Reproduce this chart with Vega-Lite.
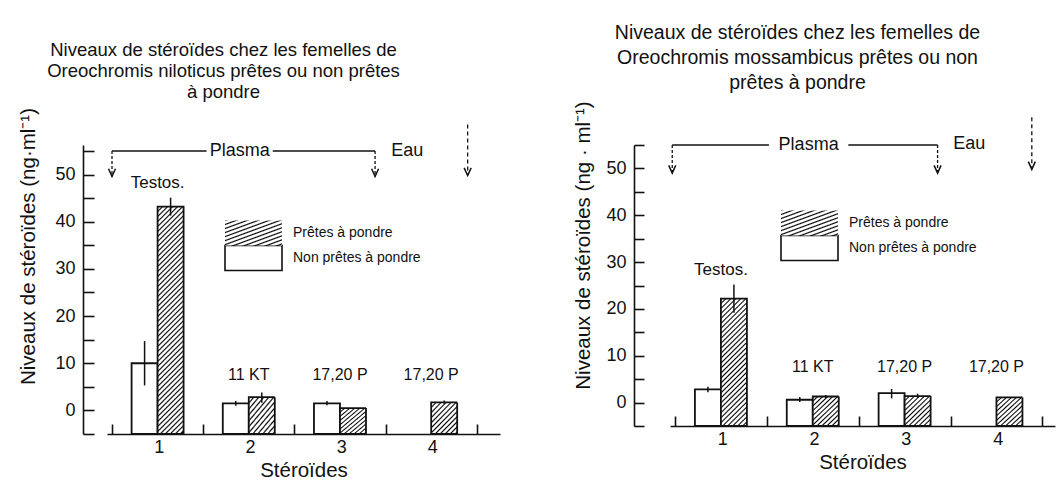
{
"$schema": "https://vega.github.io/schema/vega-lite/v6.json",
"background": "white",
"padding": {"left": 18, "top": 22, "right": 5, "bottom": 5},
"spacing": 49,
"datasets": {"bars": [
{"p":"L","g":1,"s":"Non prêtes à pondre","st":"Testos.","v":10,"lo":5.3,"hi":14.7},
{"p":"L","g":1,"s":"Prêtes à pondre","st":"Testos.","v":43.2,"lo":41.3,"hi":45.1},
{"p":"L","g":2,"s":"Non prêtes à pondre","st":"11 KT","v":1.5,"lo":1.0,"hi":2.0},
{"p":"L","g":2,"s":"Prêtes à pondre","st":"11 KT","v":2.8,"lo":1.6,"hi":3.8},
{"p":"L","g":3,"s":"Non prêtes à pondre","st":"17,20 P","v":1.5,"lo":1.1,"hi":2.0},
{"p":"L","g":3,"s":"Prêtes à pondre","st":"17,20 P","v":0.5,"lo":null,"hi":null},
{"p":"L","g":4,"s":"Prêtes à pondre","st":"17,20 P","v":1.7,"lo":1.4,"hi":2.1},
{"p":"R","g":1,"s":"Non prêtes à pondre","st":"Testos.","v":2.8,"lo":2.2,"hi":3.4},
{"p":"R","g":1,"s":"Prêtes à pondre","st":"Testos.","v":22.2,"lo":19.2,"hi":25.2},
{"p":"R","g":2,"s":"Non prêtes à pondre","st":"11 KT","v":0.6,"lo":0.1,"hi":1.2},
{"p":"R","g":2,"s":"Prêtes à pondre","st":"11 KT","v":1.3,"lo":1.0,"hi":1.6},
{"p":"R","g":3,"s":"Non prêtes à pondre","st":"17,20 P","v":2.0,"lo":0.9,"hi":2.9},
{"p":"R","g":3,"s":"Prêtes à pondre","st":"17,20 P","v":1.4,"lo":1.0,"hi":1.9},
{"p":"R","g":4,"s":"Prêtes à pondre","st":"17,20 P","v":1.1,"lo":null,"hi":null}
]},
"resolve": {"scale": {"strokeDash": "independent", "fill": "independent"}, "legend": {"strokeDash": "independent", "fill": "independent"}},
"hconcat": [
{
"width": 393, "height": 289,
"title": {"text": ["Niveaux de stéroïdes chez les femelles de", "Oreochromis niloticus prêtes ou non prêtes", "à pondre"], "anchor": "middle", "frame": "group", "dx": -80, "offset": 5.5, "lineHeight": 21, "fontSize": 18.5},
"data": {"name": "bars"},
"layer": [
{"transform": [{"filter": "datum.p == 'L' && datum.s == 'Non prêtes à pondre'"}],
 "mark": {"type": "bar", "width": 26, "xOffset": -13, "stroke": "#111", "strokeWidth": 1.8},
 "encoding": {
  "x": {"field": "g", "type": "quantitative", "scale": {"domain": [0.5, 4.7], "nice": false, "zero": false},
        "axis": {"title": "Stéroïdes", "values": [0.5,1.5,2.5,3.5,4.5], "tickCount": 30, "labelExpr": "datum.value > 4 ? '' : format(datum.value + 0.5, 'd')", "labelOffset": 46.8, "tickSize": -10, "labelPadding": 14, "labelFlush": false, "labelOverlap": false, "titlePadding": 4}},
  "y": {"field": "v", "type": "quantitative", "scale": {"domain": [-5, 56.27], "nice": false, "zero": false},
        "axis": {"title": "Niveaux de stéroïdes (ng·ml⁻¹)", "values": [-5,0,5,10,15,20,25,30,35,40,45,50,55], "tickCount": 30, "labelExpr": "datum.value >= 0 && datum.value <= 50 && datum.value % 10 == 0 ? datum.label : ''", "labelOverlap": false, "tickSize": -11, "labelPadding": 19, "offset": 24, "titleY": 101, "titlePadding": 16}},
  "y2": {"datum": -5},
  "fill": {"field": "s", "type": "nominal", "scale": {"domain": ["Non prêtes à pondre"], "range": ["#fff"]},
           "legend": {"orient": "none", "legendX": 133, "legendY": 99.5, "title": null, "symbolType": "M-2.28,-1H2.28V1H-2.28Z", "symbolSize": 625, "symbolStrokeColor": "#111", "symbolStrokeWidth": 1.6, "labelFontSize": 14, "labelOffset": 26, "padding": 0}}
 }},
{"transform": [{"filter": "datum.p == 'L' && datum.s == 'Prêtes à pondre' && datum.g == 1"}],
 "mark": {"type": "bar", "width": 26, "xOffset": 13, "stroke": "#111", "strokeWidth": 1.8, "fill": {"gradient":"linear","x1":0,"y1":0,"x2":0.1241,"y2":1.0852,"stops":[
{"offset":0,"color":"#000"},{"offset":0.006,"color":"#fff"},{"offset":0.014,"color":"#fff"},
{"offset":0.02,"color":"#000"},{"offset":0.026,"color":"#fff"},{"offset":0.034,"color":"#fff"},
{"offset":0.04,"color":"#000"},{"offset":0.046,"color":"#fff"},{"offset":0.054,"color":"#fff"},
{"offset":0.06,"color":"#000"},{"offset":0.066,"color":"#fff"},{"offset":0.074,"color":"#fff"},
{"offset":0.08,"color":"#000"},{"offset":0.086,"color":"#fff"},{"offset":0.094,"color":"#fff"},
{"offset":0.1,"color":"#000"},{"offset":0.106,"color":"#fff"},{"offset":0.114,"color":"#fff"},
{"offset":0.12,"color":"#000"},{"offset":0.126,"color":"#fff"},{"offset":0.134,"color":"#fff"},
{"offset":0.14,"color":"#000"},{"offset":0.146,"color":"#fff"},{"offset":0.154,"color":"#fff"},
{"offset":0.16,"color":"#000"},{"offset":0.166,"color":"#fff"},{"offset":0.174,"color":"#fff"},
{"offset":0.18,"color":"#000"},{"offset":0.186,"color":"#fff"},{"offset":0.194,"color":"#fff"},
{"offset":0.2,"color":"#000"},{"offset":0.206,"color":"#fff"},{"offset":0.214,"color":"#fff"},
{"offset":0.22,"color":"#000"},{"offset":0.226,"color":"#fff"},{"offset":0.234,"color":"#fff"},
{"offset":0.24,"color":"#000"},{"offset":0.246,"color":"#fff"},{"offset":0.254,"color":"#fff"},
{"offset":0.26,"color":"#000"},{"offset":0.266,"color":"#fff"},{"offset":0.274,"color":"#fff"},
{"offset":0.28,"color":"#000"},{"offset":0.286,"color":"#fff"},{"offset":0.294,"color":"#fff"},
{"offset":0.3,"color":"#000"},{"offset":0.306,"color":"#fff"},{"offset":0.314,"color":"#fff"},
{"offset":0.32,"color":"#000"},{"offset":0.326,"color":"#fff"},{"offset":0.334,"color":"#fff"},
{"offset":0.34,"color":"#000"},{"offset":0.346,"color":"#fff"},{"offset":0.354,"color":"#fff"},
{"offset":0.36,"color":"#000"},{"offset":0.366,"color":"#fff"},{"offset":0.374,"color":"#fff"},
{"offset":0.38,"color":"#000"},{"offset":0.386,"color":"#fff"},{"offset":0.394,"color":"#fff"},
{"offset":0.4,"color":"#000"},{"offset":0.406,"color":"#fff"},{"offset":0.414,"color":"#fff"},
{"offset":0.42,"color":"#000"},{"offset":0.426,"color":"#fff"},{"offset":0.434,"color":"#fff"},
{"offset":0.44,"color":"#000"},{"offset":0.446,"color":"#fff"},{"offset":0.454,"color":"#fff"},
{"offset":0.46,"color":"#000"},{"offset":0.466,"color":"#fff"},{"offset":0.474,"color":"#fff"},
{"offset":0.48,"color":"#000"},{"offset":0.486,"color":"#fff"},{"offset":0.494,"color":"#fff"},
{"offset":0.5,"color":"#000"},{"offset":0.506,"color":"#fff"},{"offset":0.514,"color":"#fff"},
{"offset":0.52,"color":"#000"},{"offset":0.526,"color":"#fff"},{"offset":0.534,"color":"#fff"},
{"offset":0.54,"color":"#000"},{"offset":0.546,"color":"#fff"},{"offset":0.554,"color":"#fff"},
{"offset":0.56,"color":"#000"},{"offset":0.566,"color":"#fff"},{"offset":0.574,"color":"#fff"},
{"offset":0.58,"color":"#000"},{"offset":0.586,"color":"#fff"},{"offset":0.594,"color":"#fff"},
{"offset":0.6,"color":"#000"},{"offset":0.606,"color":"#fff"},{"offset":0.614,"color":"#fff"},
{"offset":0.62,"color":"#000"},{"offset":0.626,"color":"#fff"},{"offset":0.634,"color":"#fff"},
{"offset":0.64,"color":"#000"},{"offset":0.646,"color":"#fff"},{"offset":0.654,"color":"#fff"},
{"offset":0.66,"color":"#000"},{"offset":0.666,"color":"#fff"},{"offset":0.674,"color":"#fff"},
{"offset":0.68,"color":"#000"},{"offset":0.686,"color":"#fff"},{"offset":0.694,"color":"#fff"},
{"offset":0.7,"color":"#000"},{"offset":0.706,"color":"#fff"},{"offset":0.714,"color":"#fff"},
{"offset":0.72,"color":"#000"},{"offset":0.726,"color":"#fff"},{"offset":0.734,"color":"#fff"},
{"offset":0.74,"color":"#000"},{"offset":0.746,"color":"#fff"},{"offset":0.754,"color":"#fff"},
{"offset":0.76,"color":"#000"},{"offset":0.766,"color":"#fff"},{"offset":0.774,"color":"#fff"},
{"offset":0.78,"color":"#000"},{"offset":0.786,"color":"#fff"},{"offset":0.794,"color":"#fff"},
{"offset":0.8,"color":"#000"},{"offset":0.806,"color":"#fff"},{"offset":0.814,"color":"#fff"},
{"offset":0.82,"color":"#000"},{"offset":0.826,"color":"#fff"},{"offset":0.834,"color":"#fff"},
{"offset":0.84,"color":"#000"},{"offset":0.846,"color":"#fff"},{"offset":0.854,"color":"#fff"},
{"offset":0.86,"color":"#000"},{"offset":0.866,"color":"#fff"},{"offset":0.874,"color":"#fff"},
{"offset":0.88,"color":"#000"},{"offset":0.886,"color":"#fff"},{"offset":0.894,"color":"#fff"},
{"offset":0.9,"color":"#000"},{"offset":0.906,"color":"#fff"},{"offset":0.914,"color":"#fff"},
{"offset":0.92,"color":"#000"},{"offset":0.926,"color":"#fff"},{"offset":0.934,"color":"#fff"},
{"offset":0.94,"color":"#000"},{"offset":0.946,"color":"#fff"},{"offset":0.954,"color":"#fff"},
{"offset":0.96,"color":"#000"},{"offset":0.966,"color":"#fff"},{"offset":0.974,"color":"#fff"},
{"offset":0.98,"color":"#000"},{"offset":0.986,"color":"#fff"},{"offset":0.994,"color":"#fff"},
{"offset":1,"color":"#000"}]}},
 "encoding": {"x": {"field": "g", "type": "quantitative"}, "y": {"field": "v", "type": "quantitative"}, "y2": {"datum": -5}}},
{"transform": [{"filter": "datum.p == 'L' && datum.s == 'Prêtes à pondre' && datum.g > 1"}],
 "mark": {"type": "bar", "width": 26, "xOffset": 13, "stroke": "#111", "strokeWidth": 1.8, "fill": {"gradient":"linear","x1":0,"y1":0,"x2":3.97,"y2":4.73,"stops":[
{"offset":0,"color":"#000"},{"offset":0.006,"color":"#fff"},{"offset":0.014,"color":"#fff"},
{"offset":0.02,"color":"#000"},{"offset":0.026,"color":"#fff"},{"offset":0.034,"color":"#fff"},
{"offset":0.04,"color":"#000"},{"offset":0.046,"color":"#fff"},{"offset":0.054,"color":"#fff"},
{"offset":0.06,"color":"#000"},{"offset":0.066,"color":"#fff"},{"offset":0.074,"color":"#fff"},
{"offset":0.08,"color":"#000"},{"offset":0.086,"color":"#fff"},{"offset":0.094,"color":"#fff"},
{"offset":0.1,"color":"#000"},{"offset":0.106,"color":"#fff"},{"offset":0.114,"color":"#fff"},
{"offset":0.12,"color":"#000"},{"offset":0.126,"color":"#fff"},{"offset":0.134,"color":"#fff"},
{"offset":0.14,"color":"#000"},{"offset":0.146,"color":"#fff"},{"offset":0.154,"color":"#fff"},
{"offset":0.16,"color":"#000"},{"offset":0.166,"color":"#fff"},{"offset":0.174,"color":"#fff"},
{"offset":0.18,"color":"#000"},{"offset":0.186,"color":"#fff"},{"offset":0.194,"color":"#fff"},
{"offset":0.2,"color":"#000"},{"offset":0.206,"color":"#fff"},{"offset":0.214,"color":"#fff"},
{"offset":0.22,"color":"#000"},{"offset":0.226,"color":"#fff"},{"offset":0.234,"color":"#fff"},
{"offset":0.24,"color":"#000"},{"offset":0.246,"color":"#fff"},{"offset":0.254,"color":"#fff"}]}},
 "encoding": {"x": {"field": "g", "type": "quantitative"}, "y": {"field": "v", "type": "quantitative"}, "y2": {"datum": -5},
  "strokeDash": {"field": "s", "type": "nominal", "scale": {"domain": ["Prêtes à pondre"], "range": [[1, 0]]},
           "legend": {"orient": "none", "legendX": 133, "legendY": 74.5, "title": null, "symbolType": "M-2.28,-1H2.28V1H-2.28Z", "symbolSize": 625, "symbolStrokeColor": "#111", "symbolStrokeWidth": 1.6, "labelFontSize": 14, "labelOffset": 26, "padding": 0,
             "encode": {"symbols": {"stroke": {"value": "#111"}, "strokeWidth": {"value": 1.6}}}}}}},
{"transform": [{"filter": "datum.p == 'L' && datum.s == 'Non prêtes à pondre' && isValid(datum.lo)"}],
 "mark": {"type": "rule", "xOffset": -13, "stroke": "#111", "strokeWidth": 1.5},
 "encoding": {"x": {"field": "g", "type": "quantitative"}, "y": {"field": "lo", "type": "quantitative"}, "y2": {"field": "hi"}}},
{"transform": [{"filter": "datum.p == 'L' && datum.s == 'Prêtes à pondre' && isValid(datum.lo)"}],
 "mark": {"type": "rule", "xOffset": 13, "stroke": "#111", "strokeWidth": 1.5},
 "encoding": {"x": {"field": "g", "type": "quantitative"}, "y": {"field": "lo", "type": "quantitative"}, "y2": {"field": "hi"}}},
{"transform": [{"filter": "datum.p == 'L' && datum.s == 'Prêtes à pondre' && datum.g == 1"}],
 "mark": {"type": "text", "baseline": "bottom", "dy": -6, "fontSize": 17},
 "encoding": {"x": {"field": "g", "type": "quantitative"}, "y": {"field": "hi", "type": "quantitative"}, "text": {"field": "st"}}},
{"transform": [{"filter": "datum.p == 'L' && datum.s == 'Prêtes à pondre' && datum.g > 1"}],
 "mark": {"type": "text", "baseline": "middle", "fontSize": 16},
 "encoding": {"x": {"field": "g", "type": "quantitative"}, "y": {"datum": 7.6}, "text": {"field": "st"}}},
{"data": {"values": [{}]}, "mark": {"type": "rule", "stroke": "#111", "strokeWidth": 1.5},
 "encoding": {"x": {"datum": 0.5}, "x2": {"datum": 1.537}, "y": {"datum": 55}}},
{"data": {"values": [{}]}, "mark": {"type": "rule", "stroke": "#111", "strokeWidth": 1.5},
 "encoding": {"x": {"datum": 2.263}, "x2": {"datum": 3.385}, "y": {"datum": 55}}},
{"data": {"values": [{}]}, "mark": {"type": "text", "text": "Plasma", "fontSize": 18, "baseline": "middle"},
 "encoding": {"x": {"datum": 1.9}, "y": {"datum": 55}}},
{"data": {"values": [{}]}, "mark": {"type": "text", "text": "Eau", "fontSize": 18, "baseline": "middle"},
 "encoding": {"x": {"datum": 3.738}, "y": {"datum": 55.1}}},
{"data": {"values": [{}]}, "mark": {"type": "rule", "stroke": "#111", "strokeWidth": 1.3, "strokeDash": [3, 2]},
 "encoding": {"x": {"datum": 0.5}, "y": {"datum": 55}, "y2": {"datum": 49.6}}},
{"data": {"values": [{}]}, "mark": {"type": "rule", "stroke": "#111", "strokeWidth": 1.3, "strokeDash": [3, 2]},
 "encoding": {"x": {"datum": 3.385}, "y": {"datum": 55}, "y2": {"datum": 49.6}}},
{"data": {"values": [{}]}, "mark": {"type": "rule", "stroke": "#111", "strokeWidth": 1.3, "strokeDash": [4, 3]},
 "encoding": {"x": {"datum": 4.4}, "y": {"datum": 60.6}, "y2": {"datum": 49.8}}},
{"data": {"values": [{}]}, "mark": {"type": "point", "shape": "M-1,-2.2L0,0L1,-2.2", "size": 49, "filled": false, "stroke": "#111", "strokeWidth": 1.5, "opacity": 1},
 "encoding": {"x": {"datum": 0.5}, "y": {"datum": 49.6}}},
{"data": {"values": [{}]}, "mark": {"type": "point", "shape": "M-1,-2.2L0,0L1,-2.2", "size": 49, "filled": false, "stroke": "#111", "strokeWidth": 1.5, "opacity": 1},
 "encoding": {"x": {"datum": 3.385}, "y": {"datum": 49.6}}},
{"data": {"values": [{}]}, "mark": {"type": "point", "shape": "M-1,-2.2L0,0L1,-2.2", "size": 49, "filled": false, "stroke": "#111", "strokeWidth": 1.5, "opacity": 1},
 "encoding": {"x": {"datum": 4.4}, "y": {"datum": 49.8}}}
]
},
{
"width": 385, "height": 281,
"title": {"text": ["Niveaux de stéroïdes chez les femelles de", "Oreochromis mossambicus prêtes ou non", "prêtes à pondre"], "anchor": "middle", "frame": "group", "dx": -65, "offset": 7.5, "lineHeight": 25, "fontSize": 19.5},
"data": {"name": "bars"},
"layer": [
{"transform": [{"filter": "datum.p == 'R' && datum.s == 'Non prêtes à pondre'"}],
 "mark": {"type": "bar", "width": 26, "xOffset": -13, "stroke": "#111", "strokeWidth": 1.8},
 "encoding": {
  "x": {"field": "g", "type": "quantitative", "scale": {"domain": [0.5, 4.583], "nice": false, "zero": false},
        "axis": {"title": "Stéroïdes", "values": [0.5,1.5,2.5,3.5,4.5], "tickCount": 30, "labelExpr": "datum.value > 4 ? '' : format(datum.value + 0.5, 'd')", "labelOffset": 47.15, "tickSize": -10, "labelPadding": 14, "labelFlush": false, "labelOverlap": false, "titlePadding": 4}},
  "y": {"field": "v", "type": "quantitative", "scale": {"domain": [-5, 55], "nice": false, "zero": false},
        "axis": {"title": "Niveaux de stéroïdes (ng · ml⁻¹)", "values": [-5,0,5,10,15,20,25,30,35,40,45,50,55], "tickCount": 30, "labelExpr": "datum.value >= 0 && datum.value <= 50 && datum.value % 10 == 0 ? datum.label : ''", "labelOverlap": false, "tickSize": -10, "labelPadding": 18, "offset": 36, "titleY": 100, "titlePadding": 12}},
  "y2": {"datum": -5},
  "fill": {"field": "s", "type": "nominal", "scale": {"domain": ["Non prêtes à pondre"], "range": ["#fff"]},
           "legend": {"orient": "none", "legendX": 126, "legendY": 89.5, "title": null, "symbolType": "M-2.28,-1H2.28V1H-2.28Z", "symbolSize": 625, "symbolStrokeColor": "#111", "symbolStrokeWidth": 1.6, "labelFontSize": 14, "labelOffset": 26, "padding": 0}}
 }},
{"transform": [{"filter": "datum.p == 'R' && datum.s == 'Prêtes à pondre' && datum.g == 1"}],
 "mark": {"type": "bar", "width": 26, "xOffset": 13, "stroke": "#111", "strokeWidth": 1.8, "fill": {"gradient":"linear","x1":0,"y1":0,"x2":0.3793,"y2":1.8717,"stops":[
{"offset":0,"color":"#000"},{"offset":0.006,"color":"#fff"},{"offset":0.014,"color":"#fff"},
{"offset":0.02,"color":"#000"},{"offset":0.026,"color":"#fff"},{"offset":0.034,"color":"#fff"},
{"offset":0.04,"color":"#000"},{"offset":0.046,"color":"#fff"},{"offset":0.054,"color":"#fff"},
{"offset":0.06,"color":"#000"},{"offset":0.066,"color":"#fff"},{"offset":0.074,"color":"#fff"},
{"offset":0.08,"color":"#000"},{"offset":0.086,"color":"#fff"},{"offset":0.094,"color":"#fff"},
{"offset":0.1,"color":"#000"},{"offset":0.106,"color":"#fff"},{"offset":0.114,"color":"#fff"},
{"offset":0.12,"color":"#000"},{"offset":0.126,"color":"#fff"},{"offset":0.134,"color":"#fff"},
{"offset":0.14,"color":"#000"},{"offset":0.146,"color":"#fff"},{"offset":0.154,"color":"#fff"},
{"offset":0.16,"color":"#000"},{"offset":0.166,"color":"#fff"},{"offset":0.174,"color":"#fff"},
{"offset":0.18,"color":"#000"},{"offset":0.186,"color":"#fff"},{"offset":0.194,"color":"#fff"},
{"offset":0.2,"color":"#000"},{"offset":0.206,"color":"#fff"},{"offset":0.214,"color":"#fff"},
{"offset":0.22,"color":"#000"},{"offset":0.226,"color":"#fff"},{"offset":0.234,"color":"#fff"},
{"offset":0.24,"color":"#000"},{"offset":0.246,"color":"#fff"},{"offset":0.254,"color":"#fff"},
{"offset":0.26,"color":"#000"},{"offset":0.266,"color":"#fff"},{"offset":0.274,"color":"#fff"},
{"offset":0.28,"color":"#000"},{"offset":0.286,"color":"#fff"},{"offset":0.294,"color":"#fff"},
{"offset":0.3,"color":"#000"},{"offset":0.306,"color":"#fff"},{"offset":0.314,"color":"#fff"},
{"offset":0.32,"color":"#000"},{"offset":0.326,"color":"#fff"},{"offset":0.334,"color":"#fff"},
{"offset":0.34,"color":"#000"},{"offset":0.346,"color":"#fff"},{"offset":0.354,"color":"#fff"},
{"offset":0.36,"color":"#000"},{"offset":0.366,"color":"#fff"},{"offset":0.374,"color":"#fff"},
{"offset":0.38,"color":"#000"},{"offset":0.386,"color":"#fff"},{"offset":0.394,"color":"#fff"},
{"offset":0.4,"color":"#000"},{"offset":0.406,"color":"#fff"},{"offset":0.414,"color":"#fff"},
{"offset":0.42,"color":"#000"},{"offset":0.426,"color":"#fff"},{"offset":0.434,"color":"#fff"},
{"offset":0.44,"color":"#000"},{"offset":0.446,"color":"#fff"},{"offset":0.454,"color":"#fff"},
{"offset":0.46,"color":"#000"},{"offset":0.466,"color":"#fff"},{"offset":0.474,"color":"#fff"},
{"offset":0.48,"color":"#000"},{"offset":0.486,"color":"#fff"},{"offset":0.494,"color":"#fff"},
{"offset":0.5,"color":"#000"},{"offset":0.506,"color":"#fff"},{"offset":0.514,"color":"#fff"},
{"offset":0.52,"color":"#000"},{"offset":0.526,"color":"#fff"},{"offset":0.534,"color":"#fff"},
{"offset":0.54,"color":"#000"},{"offset":0.546,"color":"#fff"},{"offset":0.554,"color":"#fff"},
{"offset":0.56,"color":"#000"},{"offset":0.566,"color":"#fff"},{"offset":0.574,"color":"#fff"},
{"offset":0.58,"color":"#000"},{"offset":0.586,"color":"#fff"},{"offset":0.594,"color":"#fff"},
{"offset":0.6,"color":"#000"},{"offset":0.606,"color":"#fff"},{"offset":0.614,"color":"#fff"},
{"offset":0.62,"color":"#000"},{"offset":0.626,"color":"#fff"},{"offset":0.634,"color":"#fff"}]}},
 "encoding": {"x": {"field": "g", "type": "quantitative"}, "y": {"field": "v", "type": "quantitative"}, "y2": {"datum": -5}}},
{"transform": [{"filter": "datum.p == 'R' && datum.s == 'Prêtes à pondre' && datum.g > 1"}],
 "mark": {"type": "bar", "width": 26, "xOffset": 13, "stroke": "#111", "strokeWidth": 1.8, "fill": {"gradient":"linear","x1":0,"y1":0,"x2":3.97,"y2":4.73,"stops":[
{"offset":0,"color":"#000"},{"offset":0.006,"color":"#fff"},{"offset":0.014,"color":"#fff"},
{"offset":0.02,"color":"#000"},{"offset":0.026,"color":"#fff"},{"offset":0.034,"color":"#fff"},
{"offset":0.04,"color":"#000"},{"offset":0.046,"color":"#fff"},{"offset":0.054,"color":"#fff"},
{"offset":0.06,"color":"#000"},{"offset":0.066,"color":"#fff"},{"offset":0.074,"color":"#fff"},
{"offset":0.08,"color":"#000"},{"offset":0.086,"color":"#fff"},{"offset":0.094,"color":"#fff"},
{"offset":0.1,"color":"#000"},{"offset":0.106,"color":"#fff"},{"offset":0.114,"color":"#fff"},
{"offset":0.12,"color":"#000"},{"offset":0.126,"color":"#fff"},{"offset":0.134,"color":"#fff"},
{"offset":0.14,"color":"#000"},{"offset":0.146,"color":"#fff"},{"offset":0.154,"color":"#fff"},
{"offset":0.16,"color":"#000"},{"offset":0.166,"color":"#fff"},{"offset":0.174,"color":"#fff"},
{"offset":0.18,"color":"#000"},{"offset":0.186,"color":"#fff"},{"offset":0.194,"color":"#fff"},
{"offset":0.2,"color":"#000"},{"offset":0.206,"color":"#fff"},{"offset":0.214,"color":"#fff"},
{"offset":0.22,"color":"#000"},{"offset":0.226,"color":"#fff"},{"offset":0.234,"color":"#fff"},
{"offset":0.24,"color":"#000"},{"offset":0.246,"color":"#fff"},{"offset":0.254,"color":"#fff"}]}},
 "encoding": {"x": {"field": "g", "type": "quantitative"}, "y": {"field": "v", "type": "quantitative"}, "y2": {"datum": -5},
  "strokeDash": {"field": "s", "type": "nominal", "scale": {"domain": ["Prêtes à pondre"], "range": [[1, 0]]},
           "legend": {"orient": "none", "legendX": 126, "legendY": 64.5, "title": null, "symbolType": "M-2.28,-1H2.28V1H-2.28Z", "symbolSize": 625, "symbolStrokeColor": "#111", "symbolStrokeWidth": 1.6, "labelFontSize": 14, "labelOffset": 26, "padding": 0,
             "encode": {"symbols": {"stroke": {"value": "#111"}, "strokeWidth": {"value": 1.6}}}}}}},
{"transform": [{"filter": "datum.p == 'R' && datum.s == 'Non prêtes à pondre' && isValid(datum.lo)"}],
 "mark": {"type": "rule", "xOffset": -13, "stroke": "#111", "strokeWidth": 1.5},
 "encoding": {"x": {"field": "g", "type": "quantitative"}, "y": {"field": "lo", "type": "quantitative"}, "y2": {"field": "hi"}}},
{"transform": [{"filter": "datum.p == 'R' && datum.s == 'Prêtes à pondre' && isValid(datum.lo)"}],
 "mark": {"type": "rule", "xOffset": 13, "stroke": "#111", "strokeWidth": 1.5},
 "encoding": {"x": {"field": "g", "type": "quantitative"}, "y": {"field": "lo", "type": "quantitative"}, "y2": {"field": "hi"}}},
{"transform": [{"filter": "datum.p == 'R' && datum.s == 'Prêtes à pondre' && datum.g == 1"}],
 "mark": {"type": "text", "baseline": "bottom", "dy": -6, "fontSize": 17},
 "encoding": {"x": {"field": "g", "type": "quantitative"}, "y": {"field": "hi", "type": "quantitative"}, "text": {"field": "st"}}},
{"transform": [{"filter": "datum.p == 'R' && datum.s == 'Prêtes à pondre' && datum.g > 1"}],
 "mark": {"type": "text", "baseline": "middle", "fontSize": 16},
 "encoding": {"x": {"field": "g", "type": "quantitative"}, "y": {"datum": 7.6}, "text": {"field": "st"}}},
{"data": {"values": [{}]}, "mark": {"type": "rule", "stroke": "#111", "strokeWidth": 1.5},
 "encoding": {"x": {"datum": 0.47}, "x2": {"datum": 1.523}, "y": {"datum": 55}}},
{"data": {"values": [{}]}, "mark": {"type": "rule", "stroke": "#111", "strokeWidth": 1.5},
 "encoding": {"x": {"datum": 2.387}, "x2": {"datum": 3.359}, "y": {"datum": 55}}},
{"data": {"values": [{}]}, "mark": {"type": "text", "text": "Plasma", "fontSize": 18, "baseline": "middle"},
 "encoding": {"x": {"datum": 1.955}, "y": {"datum": 55}}},
{"data": {"values": [{}]}, "mark": {"type": "text", "text": "Eau", "fontSize": 18, "baseline": "middle"},
 "encoding": {"x": {"datum": 3.704}, "y": {"datum": 55.3}}},
{"data": {"values": [{}]}, "mark": {"type": "rule", "stroke": "#111", "strokeWidth": 1.3, "strokeDash": [3, 2]},
 "encoding": {"x": {"datum": 0.47}, "y": {"datum": 55}, "y2": {"datum": 49.0}}},
{"data": {"values": [{}]}, "mark": {"type": "rule", "stroke": "#111", "strokeWidth": 1.3, "strokeDash": [3, 2]},
 "encoding": {"x": {"datum": 3.359}, "y": {"datum": 55}, "y2": {"datum": 49.0}}},
{"data": {"values": [{}]}, "mark": {"type": "rule", "stroke": "#111", "strokeWidth": 1.3, "strokeDash": [4, 3]},
 "encoding": {"x": {"datum": 4.385}, "y": {"datum": 60.9}, "y2": {"datum": 49.8}}},
{"data": {"values": [{}]}, "mark": {"type": "point", "shape": "M-1,-2.2L0,0L1,-2.2", "size": 49, "filled": false, "stroke": "#111", "strokeWidth": 1.5, "opacity": 1},
 "encoding": {"x": {"datum": 0.47}, "y": {"datum": 49.0}}},
{"data": {"values": [{}]}, "mark": {"type": "point", "shape": "M-1,-2.2L0,0L1,-2.2", "size": 49, "filled": false, "stroke": "#111", "strokeWidth": 1.5, "opacity": 1},
 "encoding": {"x": {"datum": 3.359}, "y": {"datum": 49.0}}},
{"data": {"values": [{}]}, "mark": {"type": "point", "shape": "M-1,-2.2L0,0L1,-2.2", "size": 49, "filled": false, "stroke": "#111", "strokeWidth": 1.5, "opacity": 1},
 "encoding": {"x": {"datum": 4.385}, "y": {"datum": 49.8}}}
]
}
],
"config": {
 "view": {"stroke": null},
 "font": "Liberation Sans",
 "text": {"color": "#111", "font": "Liberation Sans"},
 "axis": {"domainColor": "#111", "domainWidth": 1.6, "tickColor": "#111", "tickWidth": 1.6, "labelColor": "#111", "titleColor": "#111", "labelFontSize": 18, "titleFontSize": 20.5, "titleFontWeight": "normal", "grid": false, "labelFont": "Liberation Sans", "titleFont": "Liberation Sans"},
 "title": {"color": "#111", "fontSize": 19, "fontWeight": "normal", "font": "Liberation Sans"},
 "legend": {"labelColor": "#111", "labelFont": "Liberation Sans"}
}
}
